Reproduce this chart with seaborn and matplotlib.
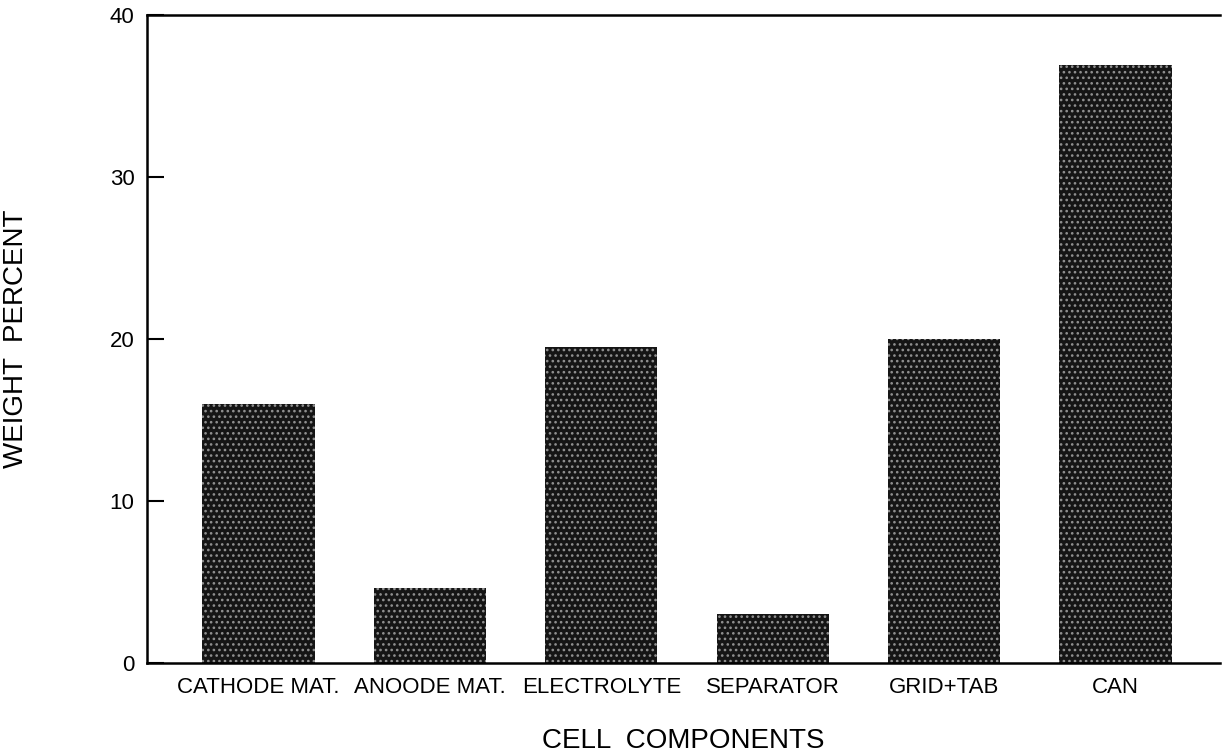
import matplotlib
matplotlib.use("Agg")
import matplotlib.pyplot as plt
import seaborn as sns
import pandas as pd

components = ["CATHODE MAT.", "ANOODE MAT.", "ELECTROLYTE", "SEPARATOR", "GRID+TAB", "CAN"]
weight_pct = [16.0, 4.6, 19.5, 3.0, 20.0, 36.9]
y_ticks = [0, 10, 20, 30, 40]

sns.set_style("white")
plt.rcParams["font.family"] = ["Liberation Sans", "DejaVu Sans"]
plt.rcParams["hatch.linewidth"] = 1.1
plt.rcParams["text.color"] = "black"
plt.rcParams["axes.labelcolor"] = "black"
plt.rcParams["xtick.color"] = "black"
plt.rcParams["ytick.color"] = "black"

df = pd.DataFrame({"component": components, "weight": weight_pct})

fig = plt.figure(figsize=(12.25, 7.54), dpi=100)
ax = fig.add_axes([0.12, 0.1207, 0.876, 0.8594])

sns.barplot(data=df, x="component", y="weight", color="#151515",
            width=0.655, saturation=1, ax=ax)

# stipple texture like the original print
for bar in ax.patches:
    bar.set_hatch("...")
    bar.set_edgecolor("#909090")
    bar.set_linewidth(0)

ax.set_xlim(-0.65, 5.61)
ax.set_ylim(0, 40)
ax.set_yticks(y_ticks)
ax.tick_params(axis="y", direction="in", length=12, width=1.5, pad=9, labelsize=16, left=True)
ax.tick_params(axis="x", length=0, pad=10, labelsize=16)

for side in ["left", "top", "bottom"]:
    ax.spines[side].set_visible(True)
    ax.spines[side].set_linewidth(1.8)
    ax.spines[side].set_color("black")
ax.spines["right"].set_visible(False)

ax.set_xlabel("CELL  COMPONENTS", fontsize=20, labelpad=22)
ax.set_ylabel("WEIGHT  PERCENT", fontsize=20, labelpad=58)

fig.savefig("out.png", dpi=100)
